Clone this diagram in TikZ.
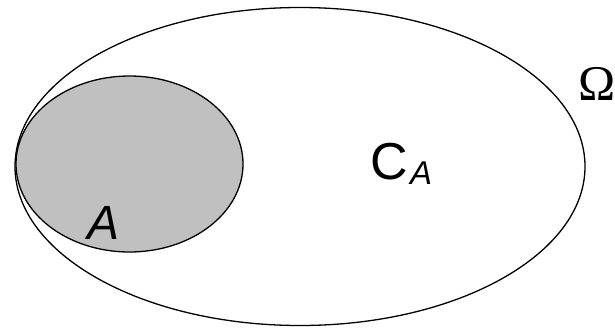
\documentclass[tikz,border=0pt]{standalone}
\usepackage{fontspec}
\setmainfont{Liberation Sans}
\newfontfamily\omegafont{Liberation Serif}
\definecolor{setgray}{HTML}{C0C0C0}
\tikzset{
  outline/.style={draw=black, line width=1.3pt},
  lbl/.style={inner sep=0pt, anchor=base west},
}
\begin{document}
\begin{tikzpicture}[x=1pt,y=-1pt]
\useasboundingbox (0,0) rectangle (615,327);
\draw[outline] (300,166.5) ellipse [x radius=285, y radius=159];
\draw[outline, fill=setgray] (129.5,164) ellipse [x radius=113.5, y radius=88];
\node[lbl] (c) at (370,179) {\fontsize{52}{54}\selectfont C};
\node[lbl] (ca) at (410,184) {\fontsize{33}{35}\selectfont\itshape A};
\node[lbl] (a) at (87,239) {\fontsize{48}{50}\selectfont\itshape A};
\node[lbl, anchor=base] (om) at (597,100) {\omegafont\fontsize{50}{52}\selectfont Ω};
\end{tikzpicture}
\end{document}
